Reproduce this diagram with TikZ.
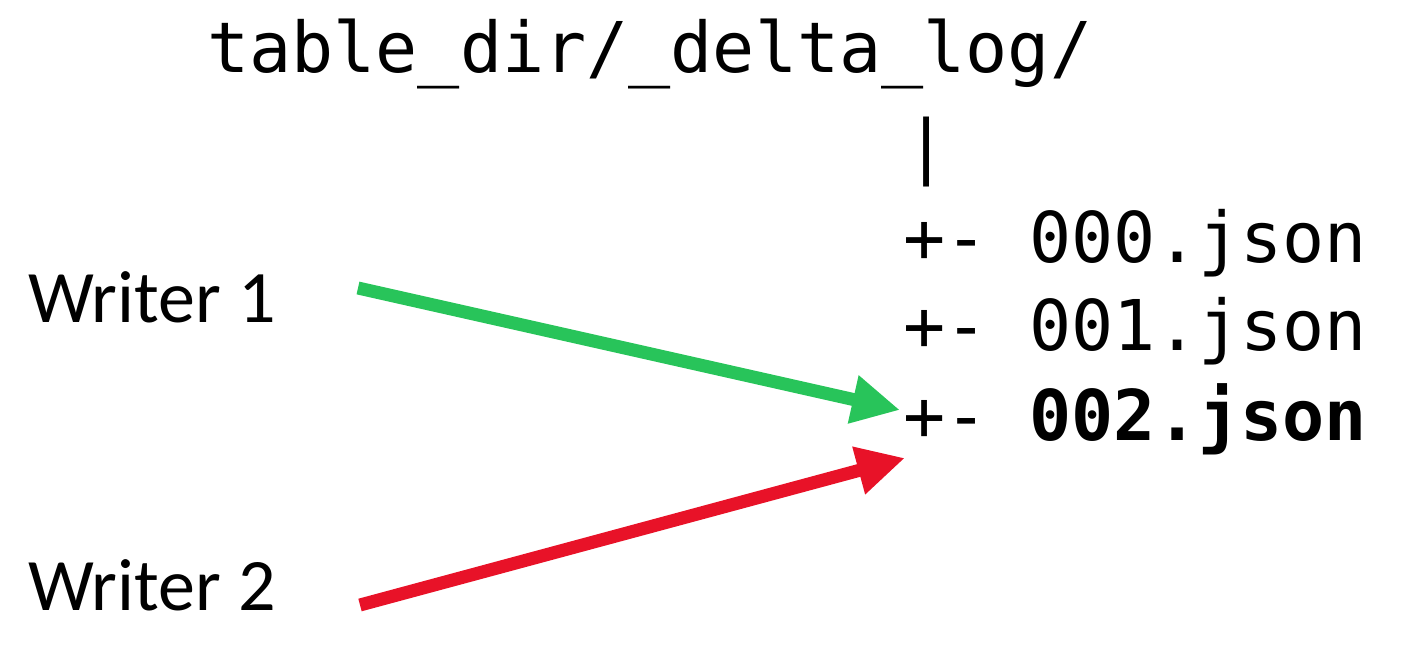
\documentclass[tikz,border=0pt]{standalone}
\usepackage{fontspec}
\setmainfont{Carlito}
\newfontfamily\monof{DejaVu Sans Mono}
\usetikzlibrary{arrows.meta}
\definecolor{wgreen}{RGB}{40,196,90}
\definecolor{wred}{RGB}{232,18,40}
\begin{document}
\begin{tikzpicture}[x=1pt,y=-1pt,
  mono/.style={font=\monof\fontsize{70}{80}\selectfont, anchor=base west, inner sep=0pt},
  wlabel/.style={font=\fontsize{74}{84}\selectfont, anchor=base west, inner sep=0pt},
  warrow/.style={line width=13pt, -{Triangle[length=48pt,width=46pt]}}]
\useasboundingbox (0,0) rectangle (1405,645);
\node[mono] (dir) at (207,72) {table\_dir/\_delta\_log/};
\node[mono] (bar) at (905,170) {|};
\node[mono] (f0) at (903,262) {+- 000.json};
\node[mono] (f1) at (903,350) {+- 001.json};
\node[mono] (f2) at (903,440) {+- \textbf{002.json}};
\node[wlabel] (w1) at (28,322) {Writer 1};
\node[wlabel] (w2) at (28,610) {Writer 2};
\coordinate (s1) at (358,288);
\coordinate (s2) at (360,605);
\coordinate (t1) at (900,410);
\coordinate (t2) at (905,458);
\draw[warrow, draw=wgreen, fill=wgreen] (s1) -- (t1);
\draw[warrow, draw=wred, fill=wred] (s2) -- (t2);
\end{tikzpicture}
\end{document}
